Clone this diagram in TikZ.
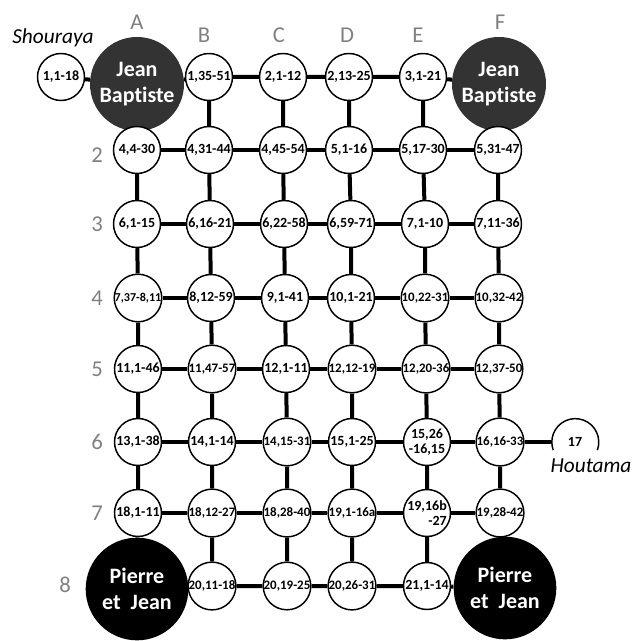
\documentclass[tikz,border=0pt]{standalone}
\usepackage{fontspec}
\usepackage{graphicx}
\setmainfont[Ligatures=NoCommon]{Carlito}
\usetikzlibrary{backgrounds}
\newsavebox\lblbox
\newcommand\fitlbl[1]{\sbox\lblbox{#1}\ifdim\wd\lblbox>35pt\relax\resizebox{35pt}{!}{#1}\else\usebox\lblbox\fi}
\tikzset{
  sm/.style={circle, draw=black, line width=1.1pt, fill=white, minimum size=35.25pt, inner sep=0pt, font=\bfseries\fontsize{10.5}{10.5}\selectfont},
  big/.style={circle, inner sep=0pt, text=white, align=center, font=\bfseries\fontsize{16.5}{20}\selectfont},
  jb/.style={big, fill=black!80, minimum size=70.5pt},
  pj/.style={big, fill=black, minimum size=77pt},
  hdr/.style={text=black!50, inner sep=0pt, font=\fontsize{17}{17}\selectfont},
  link/.style={line width=3pt},
  who/.style={inner sep=0pt, font=\itshape\fontsize{16}{16}\selectfont}
}
\begin{document}
\begin{tikzpicture}[x=0.75pt, y=-0.75pt]
\useasboundingbox (0,0) rectangle (633,641);
% big circles
\node[jb] (a1) at (137,84) {Jean\\Baptiste};
\node[jb] (f1) at (499,84) {Jean\\Baptiste};
\node[pj] (a8) at (137,589) {Pierre\\et\ \ Jean};
\node[pj] (f8) at (505,588) {Pierre\\et\ \ Jean};
% row 1
\node[sm] (s)  at (61,77)  {\fitlbl{1,1-18}};
\node[sm] (b1) at (209,77) {\fitlbl{1,35-51}};
\node[sm] (c1) at (283,77) {\fitlbl{2,1-12}};
\node[sm] (d1) at (349,77) {\fitlbl{2,13-25}};
\node[sm] (e1) at (423,77) {\fitlbl{3,1-21}};
% row 2
\node[sm] (a2) at (137,150) {\fitlbl{4,4-30}};
\node[sm] (b2) at (209,150) {\fitlbl{4,31-44}};
\node[sm] (c2) at (283,150) {\fitlbl{4,45-54}};
\node[sm] (d2) at (349,150) {\fitlbl{5,1-16}};
\node[sm] (e2) at (423,150) {\fitlbl{5,17-30}};
\node[sm] (f2) at (498,150) {\fitlbl{5,31-47}};
% row 3
\node[sm] (a3) at (137,224) {\fitlbl{6,1-15}};
\node[sm] (b3) at (210,224) {\fitlbl{6,16-21}};
\node[sm] (c3) at (284,224) {\fitlbl{6,22-58}};
\node[sm] (d3) at (351,224) {\fitlbl{6,59-71}};
\node[sm] (e3) at (425,224) {\fitlbl{7,1-10}};
\node[sm] (f3) at (498,224) {\fitlbl{7,11-36}};
% row 4
\node[sm] (a4) at (138,298) {\fitlbl{7,37-8,11}};
\node[sm] (b4) at (211,298) {\fitlbl{8,12-59}};
\node[sm] (c4) at (285,298) {\fitlbl{9,1-41}};
\node[sm] (d4) at (351,298) {\fitlbl{10,1-21}};
\node[sm] (e4) at (425,298) {\fitlbl{10,22-31}};
\node[sm] (f4) at (499,298) {\fitlbl{10,32-42}};
% row 5
\node[sm] (a5) at (138,369) {\fitlbl{11,1-46}};
\node[sm] (b5) at (212,369) {\fitlbl{11,47-57}};
\node[sm] (c5) at (286,369) {\fitlbl{12,1-11}};
\node[sm] (d5) at (352,369) {\fitlbl{12,12-19}};
\node[sm] (e5) at (426,369) {\fitlbl{12,20-36}};
\node[sm] (f5) at (499,369) {\fitlbl{12,37-50}};
% row 6
\node[sm] (a6) at (138,442) {\fitlbl{13,1-38}};
\node[sm] (b6) at (212,442) {\fitlbl{14,1-14}};
\node[sm] (c6) at (287,442) {\fitlbl{14,15-31}};
\node[sm] (d6) at (352,442) {\fitlbl{15,1-25}};
\node[sm, align=center, font=\bfseries\fontsize{10.5}{11}\selectfont] (e6) at (427,442) {15,26\\-16,15};
\node[sm] (f6) at (500,442) {\fitlbl{16,16-33}};
\node[circle, minimum size=35.25pt, inner sep=0pt, font=\bfseries\fontsize{10.5}{10.5}\selectfont] (h) at (575,442) {17};
\draw[line width=1.1pt] (h.-20) arc[start angle=-20, end angle=200, radius=17.6pt];
% row 7
\node[sm] (a7) at (138,513) {\fitlbl{18,1-11}};
\node[sm] (b7) at (212,513) {\fitlbl{18,12-27}};
\node[sm] (c7) at (287,513) {\fitlbl{18,28-40}};
\node[sm] (d7) at (352,513) {\fitlbl{19,1-16a}};
\node[sm, align=right, font=\bfseries\fontsize{10.5}{11}\selectfont] (e7) at (427,513) {19,16b\\-27};
\node[sm] (f7) at (500,513) {\fitlbl{19,28-42}};
% row 8
\node[sm] (b8) at (212,586) {\fitlbl{20,11-18}};
\node[sm] (c8) at (287,586) {\fitlbl{20,19-25}};
\node[sm] (d8) at (352,586) {\fitlbl{20,26-31}};
\node[sm] (e8) at (427,586) {\fitlbl{21,1-14}};
% headers
\node[hdr] (hA) at (137,22) {A};
\node[hdr] (hB) at (204,35) {B};
\node[hdr] (hC) at (279,35) {C};
\node[hdr] (hD) at (347,35) {D};
\node[hdr] (hE) at (418,35) {E};
\node[hdr] (hF) at (500,22) {F};
\node[hdr] (r2) at (97,155) {2};
\node[hdr] (r3) at (97,224) {3};
\node[hdr] (r4) at (97,298) {4};
\node[hdr] (r5) at (97,369) {5};
\node[hdr] (r6) at (97,442) {6};
\node[hdr] (r7) at (97,513) {7};
\node[hdr] (r8) at (65,585) {8};
\node[who] (sh) at (53,38) {Shouraya};
\node[who] (ho) at (591,466) {Houtama};
% connectors
\begin{pgfonlayer}{background}
\draw[link] (s) -- (a1);
\foreach \r in {1,...,8}{
  \draw[link] (a\r) -- (b\r) (b\r) -- (c\r) (c\r) -- (d\r) (d\r) -- (e\r) (e\r) -- (f\r);
}
\foreach \c in {a,b,c,d,e,f}{
  \draw[link] (\c1) -- (\c2) (\c2) -- (\c3) (\c3) -- (\c4) (\c4) -- (\c5) (\c5) -- (\c6) (\c6) -- (\c7) (\c7) -- (\c8);
}
\draw[link] (f6) -- (h);
\end{pgfonlayer}
\end{tikzpicture}
\end{document}
